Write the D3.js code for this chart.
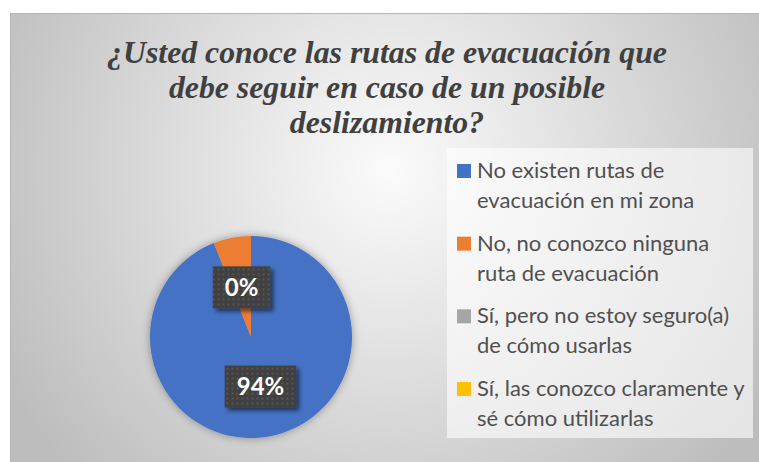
<!DOCTYPE html>
<html>
<head>
<meta charset="utf-8">
<script src="https://cdn.jsdelivr.net/npm/d3@7"></script>
<style>
  html, body { margin: 0; padding: 0; background: #fff; }
  svg { display: block; }
</style>
</head>
<body>
<svg id="chart" width="759" height="462"></svg>
<script>
// data
const categories = [
  "No existen rutas de evacuación en mi zona",
  "No, no conozco ninguna ruta de evacuación",
  "Sí, pero no estoy seguro(a) de cómo usarlas",
  "Sí, las conozco claramente y sé cómo utilizarlas"
];
const legendLines = [
  ["No existen rutas de", "evacuación en mi zona"],
  ["No, no conozco ninguna", "ruta de evacuación"],
  ["Sí, pero no estoy seguro(a)", "de cómo usarlas"],
  ["Sí, las conozco claramente y", "sé cómo utilizarlas"]
];
const values = [94, 6, 0, 0];
const shownLabels = ["94%", "0%", null, null];
const colors = ["#4472c4", "#ed7d31", "#a5a5a5", "#ffc000"];
const titleLines = [
  "¿Usted conoce las rutas de evacuación que",
  "debe seguir en caso de un posible",
  "deslizamiento?"
];

const svg = d3.select("#chart");
const width = +svg.attr("width");
const height = +svg.attr("height");

const defs = svg.append("defs");

const bg = defs.append("radialGradient")
    .attr("id", "bgGrad")
    .attr("gradientUnits", "userSpaceOnUse")
    .attr("cx", 390).attr("cy", 170).attr("r", 440);
bg.append("stop").attr("offset", "0%").attr("stop-color", "#fbfbfb");
bg.append("stop").attr("offset", "100%").attr("stop-color", "#bdbdbd");

// dotted texture of the data label boxes
const pat = defs.append("pattern")
    .attr("id", "dots")
    .attr("patternUnits", "userSpaceOnUse")
    .attr("width", 5).attr("height", 5);
pat.append("rect").attr("width", 5).attr("height", 5).attr("fill", "#404040");
pat.append("rect").attr("x", 1).attr("y", 1).attr("width", 2).attr("height", 2).attr("fill", "#565656");

const pieShadow = defs.append("filter").attr("id", "pieShadow")
    .attr("x", "-20%").attr("y", "-20%").attr("width", "140%").attr("height", "140%");
pieShadow.append("feDropShadow")
    .attr("dx", 0).attr("dy", 0).attr("stdDeviation", 4)
    .attr("flood-color", "#000").attr("flood-opacity", 0.35);

const boxShadow = defs.append("filter").attr("id", "boxShadow")
    .attr("x", "-20%").attr("y", "-20%").attr("width", "150%").attr("height", "160%");
boxShadow.append("feDropShadow")
    .attr("dx", 3).attr("dy", 3).attr("stdDeviation", 2)
    .attr("flood-color", "#000").attr("flood-opacity", 0.55);

// chart area
svg.append("rect")
    .attr("x", 10.5).attr("y", 13.5)
    .attr("width", width - 10).attr("height", height)
    .attr("fill", "url(#bgGrad)")
    .attr("stroke", "#b5b5b5");

// title
const title = svg.append("text")
    .style("font-family", '"Liberation Serif", "Times New Roman", serif')
    .style("font-weight", "bold")
    .style("font-style", "italic")
    .style("font-size", "32px")
    .attr("text-anchor", "middle")
    .attr("fill", "#404040");

title.selectAll("tspan")
  .data(titleLines)
  .join("tspan")
    .attr("x", 0)
    .attr("y", (d, i) => 63 + i * 35)
    .text(d => d);

const firstW = title.select("tspan").node().getComputedTextLength();
const tk = 560 / firstW;
title.attr("transform", `translate(387,0) scale(${tk},1)`);

// pie
const cx = 251, cy = 337, radius = 101;
const pie = d3.pie().sort(null).value(d => d);
const arcs = pie(values);
const arc = d3.arc().innerRadius(0).outerRadius(radius);
const labelArc = d3.arc().innerRadius(radius * 0.5).outerRadius(radius * 0.5);

const pieG = svg.append("g").attr("transform", `translate(${cx},${cy})`);

pieG.append("g")
    .attr("filter", "url(#pieShadow)")
  .selectAll("path")
  .data(arcs)
  .join("path")
    .attr("d", arc)
    .attr("fill", (d, i) => colors[i]);

// data labels
const labelData = arcs.map((d, i) => ({arc: d, text: shownLabels[i]}))
    .filter(d => d.text);

const labelG = pieG.selectAll("g.lbl")
  .data(labelData)
  .join("g")
    .attr("class", "lbl")
    .attr("transform", d => {
      const [x, y] = labelArc.centroid(d.arc);
      return `translate(${x},${y})`;
    });

labelG.append("text")
    .attr("text-anchor", "middle")
    .attr("dy", "0.36em")
    .style("font-family", "Lato, 'Open Sans', sans-serif")
    .style("font-weight", "bold")
    .style("font-size", "24px")
    .attr("fill", "#fff")
    .text(d => d.text);

labelG.each(function() {
  const g = d3.select(this);
  const w = g.select("text").node().getComputedTextLength() + 24;
  g.insert("rect", "text")
    .attr("x", -w / 2).attr("y", -21)
    .attr("width", w).attr("height", 42)
    .attr("fill", "url(#dots)")
    .attr("filter", "url(#boxShadow)");
});

// legend
const legend = svg.append("g");
legend.append("rect")
    .attr("x", 447).attr("y", 148)
    .attr("width", 306).attr("height", 290)
    .attr("fill", "#fff").attr("fill-opacity", 0.6);

const itemY = d3.scaleLinear().domain([0, 3]).range([178, 396]);

const items = legend.selectAll("g.item")
  .data(categories)
  .join("g")
    .attr("class", "item")
    .attr("transform", (d, i) => `translate(457,${itemY(i)})`);

items.append("rect")
    .attr("x", 0).attr("y", -14)
    .attr("width", 14).attr("height", 14)
    .attr("fill", (d, i) => colors[i]);

const itemText = items.append("text")
    .style("font-family", "Lato, 'Open Sans', sans-serif")
    .style("font-size", "22px")
    .attr("fill", "#505050");

itemText.selectAll("tspan")
  .data((d, i) => legendLines[i])
  .join("tspan")
    .attr("x", 20)
    .attr("y", (d, j) => j * 30)
    .text(d => d);

// squeeze text to the legend width if the font runs wide
let longest = 0;
itemText.selectAll("tspan").each(function() {
  longest = Math.max(longest, this.getComputedTextLength());
});
const k = Math.min(1, 272 / longest);
itemText.attr("transform", `translate(20,0) scale(${k},1) translate(-20,0)`);
</script>
</body>
</html>
